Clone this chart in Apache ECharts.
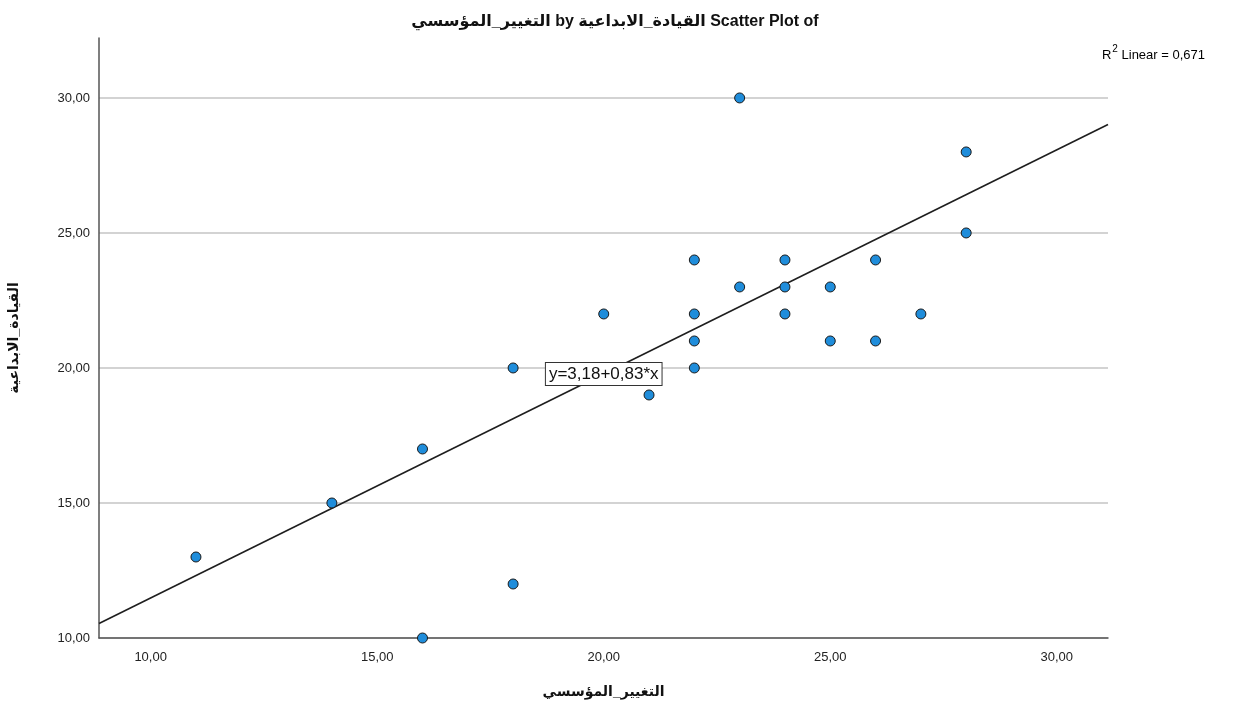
<!DOCTYPE html>
<html><head><meta charset="utf-8">
<script src="https://cdn.jsdelivr.net/npm/echarts@6/dist/echarts.min.js"></script>
<style>html,body{margin:0;padding:0;background:#fff}#c{width:1242px;height:718px}</style>
</head><body><div id="c"></div>
<script>
const xValues = [11,14,16,16,18,18,20,21,22,22,22,22,23,23,24,24,24,25,25,26,26,27,28,28];
const yValues = [13,15,17,10,20,12,22,19,24,22,21,20,30,23,24,23,22,23,21,24,21,22,28,25];
const xTicks = [10,15,20,25,30];
const yTicks = [10,15,20,25,30];
const fitIntercept = 3.18;
const fitSlope = 0.83;
const rSquaredText = '0,671';
const xName = 'التغيير_المؤسسي';
const yName = 'القيادة_الابداعية';

const FONT = "'Liberation Sans', 'DejaVu Sans', Arial, sans-serif";
const xMin = 8.86, xMax = 31.13, yMin = 10, yMax = 32.22;
const fmt = v => v.toFixed(2).replace('.', ',');
const fitY = x => fitIntercept + fitSlope * x;
const points = xValues.map((x, i) => [x, yValues[i]]);
const labelX = 20;

const chart = echarts.init(document.getElementById('c'), null, {renderer: 'canvas'});
chart.setOption({
  animation: false,
  backgroundColor: '#fff',
  title: {
    text: '\u202BScatter Plot of ' + yName + ' by ' + xName + '\u202C',
    left: 610, top: 9, textAlign: 'center',
    textStyle: {fontFamily: FONT, fontSize: 16, fontWeight: 'bold', color: '#111'}
  },
  grid: {left: 99, right: 134, top: 38, bottom: 80, containLabel: false, outerBoundsMode: 'none'},
  xAxis: {
    type: 'value', min: xMin, max: xMax,
    name: xName, nameLocation: 'middle', nameGap: 47,
    nameTextStyle: {fontFamily: FONT, fontSize: 14, fontWeight: 'bold', color: '#111'},
    axisLine: {show: true, onZero: false, lineStyle: {color: '#555', width: 1.5}},
    axisTick: {show: false, customValues: xTicks},
    axisLabel: {customValues: xTicks, formatter: fmt, fontFamily: FONT, fontSize: 13, color: '#222', margin: 13},
    splitLine: {show: false}
  },
  yAxis: {
    type: 'value', min: yMin, max: yMax,
    name: yName, nameLocation: 'middle', nameGap: 78,
    nameTextStyle: {fontFamily: FONT, fontSize: 14, fontWeight: 'bold', color: '#111'},
    axisLine: {show: true, onZero: false, lineStyle: {color: '#555', width: 1.5}},
    axisTick: {show: false, customValues: yTicks},
    axisLabel: {customValues: yTicks, formatter: fmt, fontFamily: FONT, fontSize: 13, color: '#222', margin: 9},
    splitLine: {show: true, lineStyle: {color: '#c4c4c4', width: 1.5}}
  },
  series: [
    {
      type: 'line',
      data: [[xMin, fitY(xMin)], [xMax, fitY(xMax)]],
      symbol: 'none',
      lineStyle: {color: '#1e1e1e', width: 1.6},
      z: 2,
      markPoint: {
        symbol: 'rect', symbolSize: 0,
        data: [{coord: [labelX, fitY(labelX)]}],
        label: {
          show: true, position: 'inside',
          formatter: 'y=' + fmt(fitIntercept) + '+' + fmt(fitSlope) + '*x',
          fontFamily: FONT, fontSize: 17, color: '#111',
          backgroundColor: '#fff', borderColor: '#333', borderWidth: 1,
          padding: [3, 3, 2, 3]
        }
      }
    },
    {
      type: 'scatter',
      data: points,
      symbol: 'circle', symbolSize: 10,
      itemStyle: {color: '#1f8ddb', borderColor: '#1a1a1a', borderWidth: 1, opacity: 1},
      z: 3
    }
  ],
  graphic: [{
    type: 'text', right: 37, top: 44,
    style: {
      text: '{a|R}{s|2}{a| Linear = ' + rSquaredText + '}',
      rich: {
        a: {fontFamily: FONT, fontSize: 13, color: '#222', verticalAlign: 'bottom', lineHeight: 18},
        s: {fontFamily: FONT, fontSize: 10, color: '#222', verticalAlign: 'top', lineHeight: 18, padding: [0, 0, 6, 1]}
      }
    }
  }]
});
</script></body></html>
